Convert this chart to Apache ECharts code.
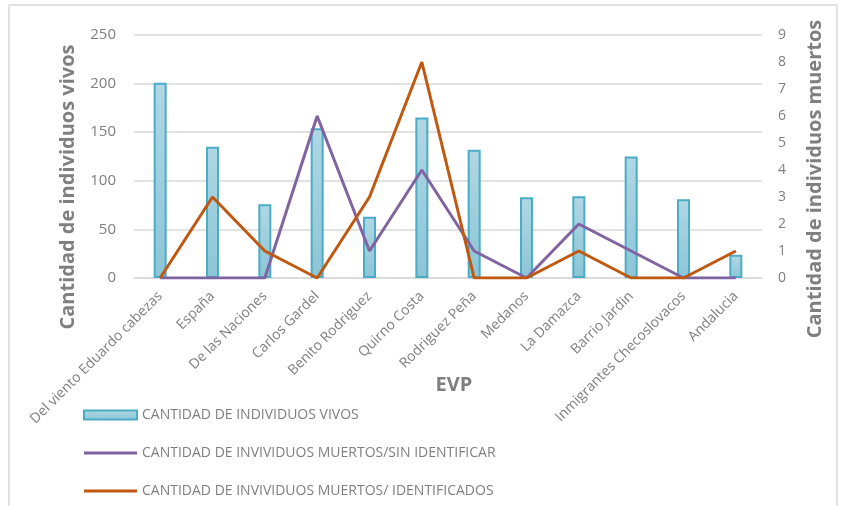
<!DOCTYPE html>
<html><head><meta charset="utf-8">
<script src="https://cdn.jsdelivr.net/npm/echarts@6/dist/echarts.min.js"></script>
<style>html,body{margin:0;padding:0;background:#fff}#c{width:842px;height:506px}</style>
</head><body><div id="c"></div>
<script>
const categories = ["Del viento Eduardo cabezas","España","De las Naciones","Carlos Gardel","Benito Rodriguez","Quirno Costa","Rodriguez Peña","Medanos","La Damazca","Barrio Jardin","Inmigrantes Checoslovacos","Andalucia"];
const vivos = [201,135,76,154,63,165,132,83,84,125,81,24];
const muertosSinId = [0,0,0,6,1,4,1,0,2,1,0,0];
const muertosId = [0,3,1,0,3,8,0,0,1,0,0,1];
const leftTicks = {min:0,max:250,interval:50};
const rightTicks = {min:0,max:9,interval:1};
const names = ["CANTIDAD DE INDIVIDUOS VIVOS","CANTIDAD DE INVIVIDUOS MUERTOS/SIN IDENTIFICAR","CANTIDAD DE INVIVIDUOS MUERTOS/ IDENTIFICADOS"];
const leftTitle = 'Cantidad de individuos vivos';
const rightTitle = 'Cantidad de individuos muertos';
const xTitle = 'EVP';

const FONT = '"Open Sans", sans-serif';
const grey = '#7f7f7f';
const lineIcon = 'path://M0,0L52,0L52,3L0,3Z';
const chart = echarts.init(document.getElementById('c'), null, {renderer:'canvas'});
chart.setOption({
  animation:false,
  textStyle:{fontFamily:FONT},
  graphic:[
    {type:'rect',shape:{x:9,y:5,width:828,height:505},style:{fill:'none',stroke:'#d9d9d9',lineWidth:1.5},silent:true},
    {type:'text',x:68,y:187,rotation:Math.PI/2,style:{text:leftTitle,fill:grey,font:'bold 20px "Open Sans", sans-serif',align:'center',verticalAlign:'middle'}},
    {type:'text',x:815,y:179,rotation:Math.PI/2,style:{text:rightTitle,fill:grey,font:'bold 20px "Open Sans", sans-serif',align:'center',verticalAlign:'middle'}},
    {type:'text',x:454,y:385,style:{text:xTitle,fill:grey,font:'bold 20px "Open Sans", sans-serif',align:'center',verticalAlign:'middle'}}
  ],
  grid:{left:134,right:80,top:35,bottom:228,containLabel:false},
  legend:{
    orient:'vertical',left:78,top:403,itemGap:24,itemWidth:53,itemHeight:9,
    textStyle:{color:'#7f7f7f',fontSize:14,fontFamily:FONT},
    data:[{name:names[0],icon:'rect'},{name:names[1],icon:lineIcon},{name:names[2],icon:lineIcon}]
  },
  xAxis:{
    type:'category',data:categories,
    axisLine:{show:true,lineStyle:{color:'#d9d9d9',width:1.5}},
    axisTick:{show:false},
    axisLabel:{rotate:45,color:'#7f7f7f',fontSize:14,interval:0,margin:16,fontFamily:FONT}
  },
  yAxis:[{
    type:'value',min:leftTicks.min,max:leftTicks.max,interval:leftTicks.interval,
    axisLabel:{color:'#7f7f7f',fontSize:15,margin:18},
    splitLine:{lineStyle:{color:'#d9d9d9',width:1.5}},
    axisLine:{show:false},axisTick:{show:false}
  },{
    type:'value',min:rightTicks.min,max:rightTicks.max,interval:rightTicks.interval,position:'right',
    axisLabel:{color:'#7f7f7f',fontSize:14,margin:16},
    splitLine:{show:false},axisLine:{show:false},axisTick:{show:false}
  }],
  series:[{
    name:names[0],type:'bar',data:vivos,yAxisIndex:0,barWidth:13,
    itemStyle:{
      color:new echarts.graphic.LinearGradient(0,0,0,1,[{offset:0,color:'#b0d7e4'},{offset:1,color:'#8cc5d6'}]),
      borderColor:'#4bacc6',borderWidth:2
    }
  },{
    name:names[1],type:'line',data:muertosSinId,yAxisIndex:1,symbol:'none',
    lineStyle:{color:'#8064a2',width:3},itemStyle:{color:'#8064a2'}
  },{
    name:names[2],type:'line',data:muertosId,yAxisIndex:1,symbol:'none',
    lineStyle:{color:'#c0580f',width:3},itemStyle:{color:'#c0580f'}
  }]
});
</script></body></html>
